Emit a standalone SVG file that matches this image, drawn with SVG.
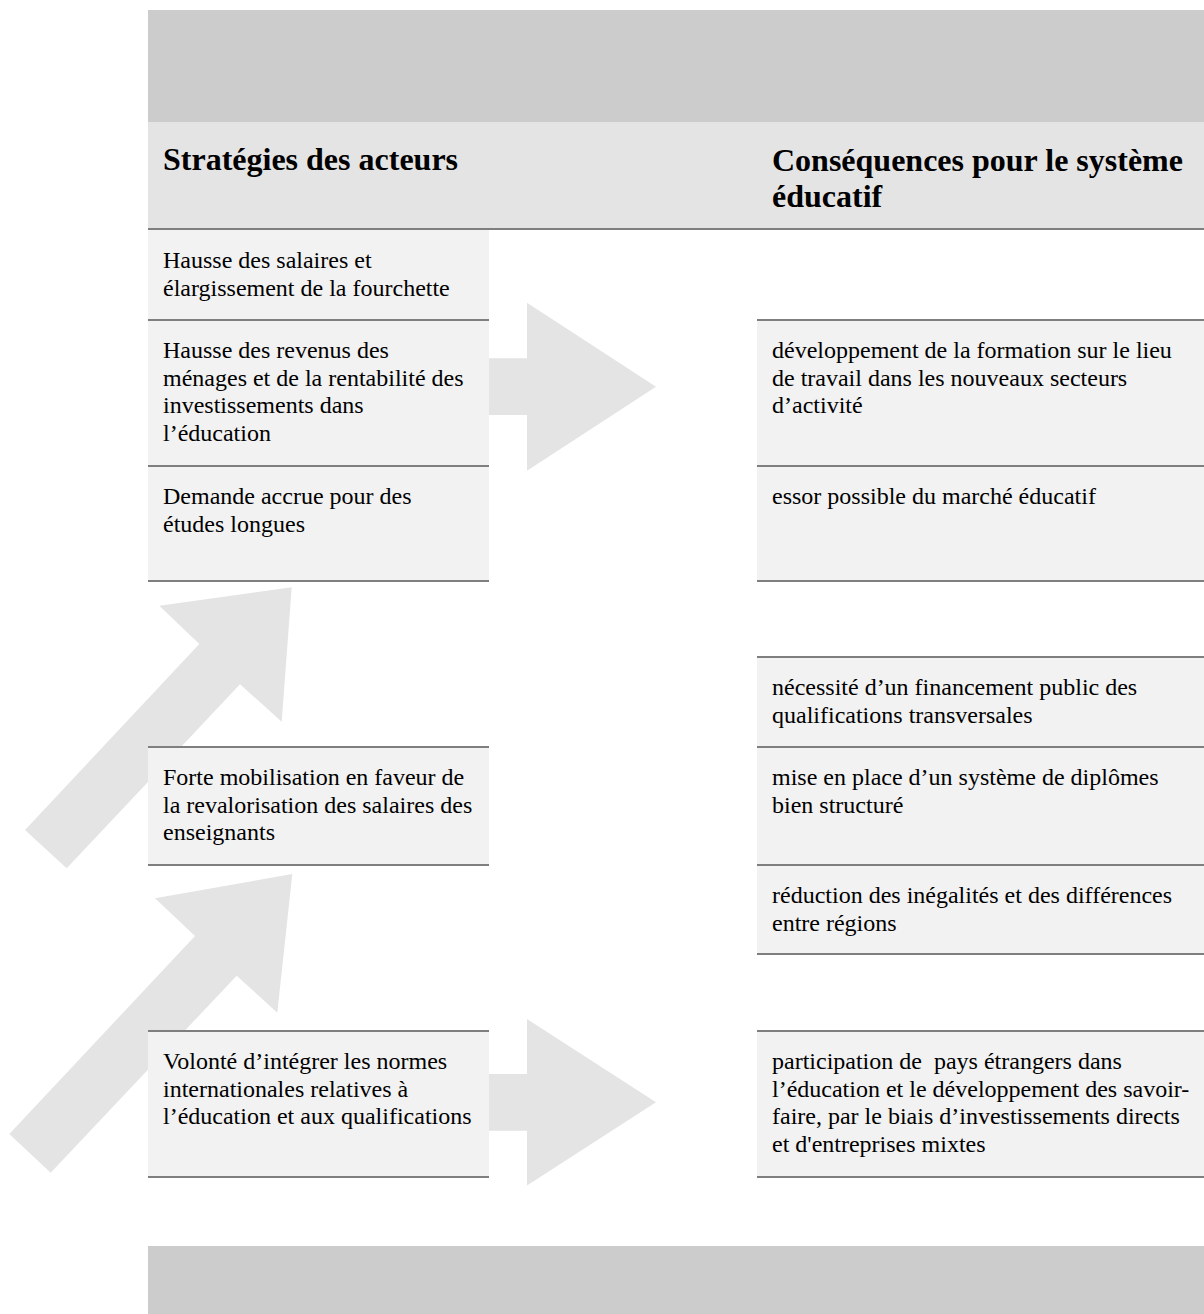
<svg xmlns="http://www.w3.org/2000/svg" width="1204" height="1314" viewBox="0 0 1204 1314">
<style>
.band{fill:#cccccc}
.hdr{fill:#e4e4e4}
.box{fill:#f2f2f2}
.rule{stroke:#7f7f7f;stroke-width:2.2;fill:none}
.arrow{fill:#e4e4e4}
.h{font-family:"Liberation Serif","Times New Roman",serif;font-weight:bold;font-size:32px;fill:#000}
.t{font-family:"Liberation Serif","Times New Roman",serif;font-size:24px;fill:#000}
</style>
<rect width="1204" height="1314" fill="#ffffff"/>
<g id="top-band"><rect class="band" x="148" y="10" width="1056" height="112"/></g>
<g id="header">
<rect class="hdr" x="148" y="122" width="1056" height="107"/>
<text class="h" x="163" y="170">Stratégies des acteurs</text>
<text class="h" x="772" y="171">Conséquences pour le système</text>
<text class="h" x="772" y="207">éducatif</text>
</g>
<g id="connectors">
<polygon class="arrow" points="291.7,587.3 159.3,605.7 199.3,644 25,830 66.7,868.3 240,684.3 281.7,721.7"/>
<polygon class="arrow" points="292.3,874 155,898.3 195,936 9.3,1134 50.7,1172.7 236.7,975.7 277.3,1012.7"/>
<polygon class="arrow" points="480,358.3 527,358.3 527,302.7 656,386.7 527,470.7 527,415 480,415"/>
<polygon class="arrow" points="480,1074 527,1074 527,1019 656,1102.3 527,1185.6 527,1130.7 480,1130.7"/>
</g>
<g id="L1"><rect class="box" x="148" y="229" width="341" height="91"/>
<text class="t" x="163" y="268">Hausse des salaires et</text>
<text class="t" x="163" y="295.6">élargissement de la fourchette</text></g>
<g id="L2"><rect class="box" x="148" y="320" width="341" height="146"/>
<text class="t" x="163" y="358">Hausse des revenus des</text>
<text class="t" x="163" y="385.6">ménages et de la rentabilité des</text>
<text class="t" x="163" y="413.2">investissements dans</text>
<text class="t" x="163" y="440.8">l’éducation</text></g>
<g id="L3"><rect class="box" x="148" y="466" width="341" height="115"/>
<text class="t" x="163" y="504">Demande accrue pour des</text>
<text class="t" x="163" y="531.6">études longues</text></g>
<g id="L4"><rect class="box" x="148" y="747" width="341" height="118"/>
<text class="t" x="163" y="785">Forte mobilisation en faveur de</text>
<text class="t" x="163" y="812.6">la revalorisation des salaires des</text>
<text class="t" x="163" y="840.2">enseignants</text></g>
<g id="L5"><rect class="box" x="148" y="1031" width="341" height="146"/>
<text class="t" x="163" y="1069">Volonté d’intégrer les normes</text>
<text class="t" x="163" y="1096.6">internationales relatives à</text>
<text class="t" x="163" y="1124.2">l’éducation et aux qualifications</text></g>
<g id="R1"><rect class="box" x="757" y="320" width="447" height="146"/>
<text class="t" x="772" y="358">développement de la formation sur le lieu</text>
<text class="t" x="772" y="385.6">de travail dans les nouveaux secteurs</text>
<text class="t" x="772" y="413.2">d’activité</text></g>
<g id="R2"><rect class="box" x="757" y="466" width="447" height="115"/>
<text class="t" x="772" y="504">essor possible du marché éducatif</text></g>
<g id="R3"><rect class="box" x="757" y="657" width="447" height="90"/>
<text class="t" x="772" y="695">nécessité d’un financement public des</text>
<text class="t" x="772" y="722.6">qualifications transversales</text></g>
<g id="R4"><rect class="box" x="757" y="747" width="447" height="118"/>
<text class="t" x="772" y="785">mise en place d’un système de diplômes</text>
<text class="t" x="772" y="812.6">bien structuré</text></g>
<g id="R5"><rect class="box" x="757" y="865" width="447" height="89"/>
<text class="t" x="772" y="903">réduction des inégalités et des différences</text>
<text class="t" x="772" y="930.6">entre régions</text></g>
<g id="R6"><rect class="box" x="757" y="1031" width="447" height="146"/>
<text class="t" x="772" y="1069" xml:space="preserve">participation de  pays étrangers dans</text>
<text class="t" x="772" y="1096.6">l’éducation et le développement des savoir-</text>
<text class="t" x="772" y="1124.2">faire, par le biais d’investissements directs</text>
<text class="t" x="772" y="1151.8">et d'entreprises mixtes</text></g>
<g id="rules">
<line class="rule" x1="148" y1="229" x2="1204" y2="229"/>
<line class="rule" x1="148" y1="320" x2="489" y2="320"/>
<line class="rule" x1="148" y1="466" x2="489" y2="466"/>
<line class="rule" x1="148" y1="581" x2="489" y2="581"/>
<line class="rule" x1="148" y1="747" x2="489" y2="747"/>
<line class="rule" x1="148" y1="865" x2="489" y2="865"/>
<line class="rule" x1="148" y1="1031" x2="489" y2="1031"/>
<line class="rule" x1="148" y1="1177" x2="489" y2="1177"/>
<line class="rule" x1="757" y1="320" x2="1204" y2="320"/>
<line class="rule" x1="757" y1="466" x2="1204" y2="466"/>
<line class="rule" x1="757" y1="581" x2="1204" y2="581"/>
<line class="rule" x1="757" y1="657" x2="1204" y2="657"/>
<line class="rule" x1="757" y1="747" x2="1204" y2="747"/>
<line class="rule" x1="757" y1="865" x2="1204" y2="865"/>
<line class="rule" x1="757" y1="954" x2="1204" y2="954"/>
<line class="rule" x1="757" y1="1031" x2="1204" y2="1031"/>
<line class="rule" x1="757" y1="1177" x2="1204" y2="1177"/>
</g>
<g id="bottom-band"><rect class="band" x="148" y="1246" width="1056" height="68"/></g>
</svg>
